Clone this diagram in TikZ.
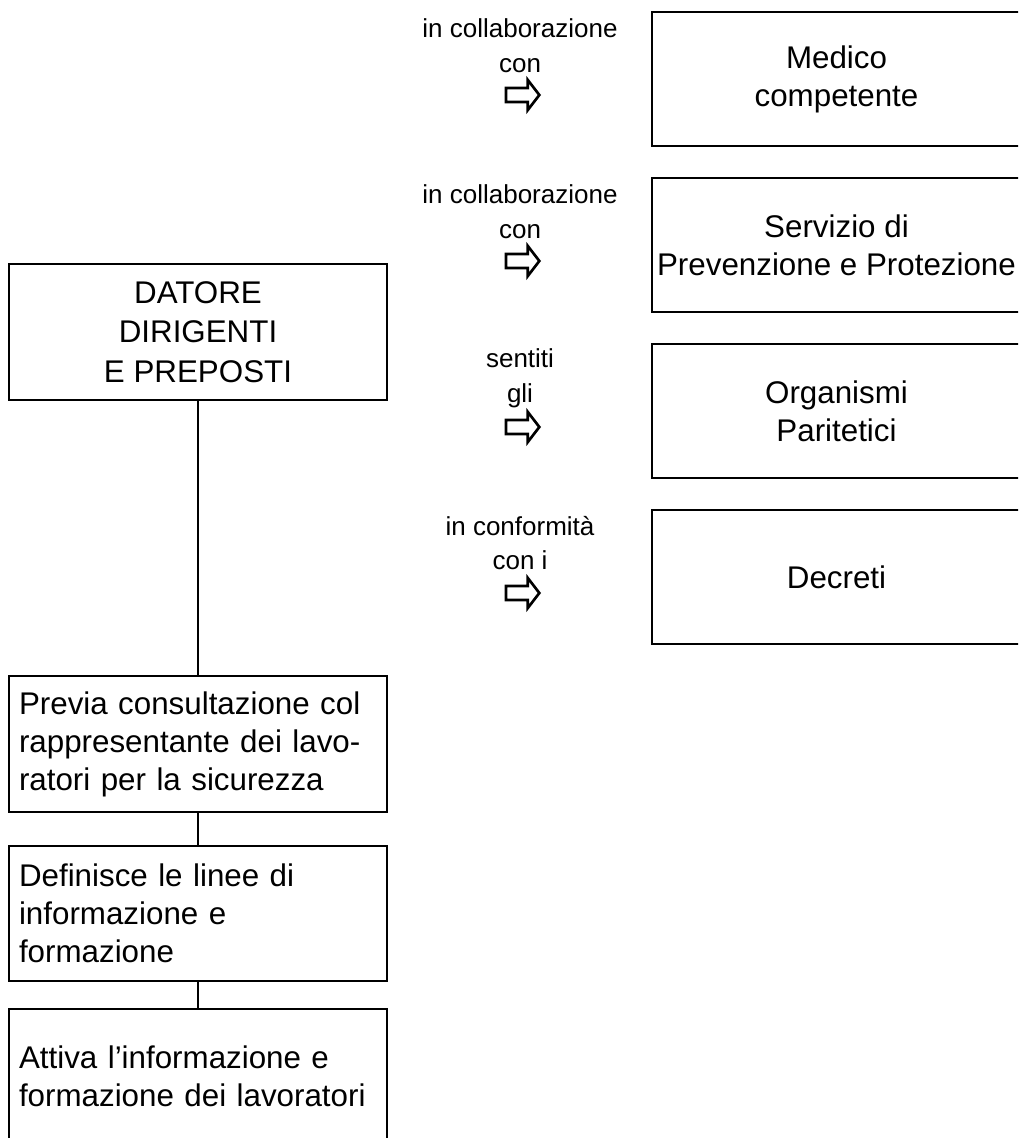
\documentclass[tikz,border=0pt]{standalone}
\usepackage{fontspec}
\setmainfont{Liberation Sans}
\usetikzlibrary{shapes.arrows}

\begin{document}
\begin{tikzpicture}[x=0.75pt,y=-0.75pt,
  box/.style={draw, line width=0.9pt, inner sep=0pt,
    font=\fontsize{23.5}{28.5}\selectfont, align=center},
  leftbox/.style={box, minimum width=283.5pt, align=left,
    text width=268.5pt, inner xsep=7.5pt},
  sidebox/.style={box, minimum width=276.75pt, minimum height=100.5pt},
  lbl/.style={font=\fontsize{19.5}{26}\selectfont, align=center, inner sep=0pt},
  blockarrow/.style={single arrow, draw, line width=2pt, inner xsep=0pt,
    inner ysep=4.2pt, minimum height=25pt, single arrow head extend=6.2pt,
    single arrow tip angle=105},
  link/.style={line width=0.9pt}
]
\clip (0,0) rectangle (1018,1138);

% left column
\node[box, minimum width=283.5pt, minimum height=102pt,
  font=\fontsize{23.5}{29.5}\selectfont] (datore) at (198,332)
  {DATORE\\DIRIGENTI\\E PREPOSTI};
\node[leftbox, minimum height=102pt] (previa) at (198,744)
  {Previa consultazione col\\rappresentante dei lavo-\\ratori per la sicurezza};
\node[leftbox, minimum height=101.25pt] (definisce) at (198,913.5)
  {Definisce le linee di\\informazione e\\formazione};
\node[leftbox, minimum height=101.25pt] (attiva) at (198,1076.5)
  {Attiva l’informazione e\\formazione dei lavoratori};

\draw[link] (datore.south) -- (previa.north);
\draw[link] (previa.south) -- (definisce.north);
\draw[link] (definisce.south) -- (attiva.north);

% right column
\node[sidebox] (medico) at (836.5,79) {Medico\\competente};
\node[sidebox] (spp) at (836.5,245) {Servizio di\\Prevenzione e Protezione};
\node[sidebox] (organismi) at (836.5,411) {Organismi\\Paritetici};
\node[sidebox] (decreti) at (836.5,577) {Decreti};

% relation labels with block arrows
\node[lbl] (l1) at (520,46) {in collaborazione\\con};
\node[blockarrow] (a1) at (520,95) {};
\node[lbl] (l2) at (520,212) {in collaborazione\\con};
\node[blockarrow] (a2) at (520,261) {};
\node[lbl] (l3) at (520,378) {sentiti\\gli};
\node[blockarrow] (a3) at (520,427) {};
\node[lbl] (l4) at (520,543) {in conformità\\con i};
\node[blockarrow] (a4) at (520,593) {};
\end{tikzpicture}
\end{document}
